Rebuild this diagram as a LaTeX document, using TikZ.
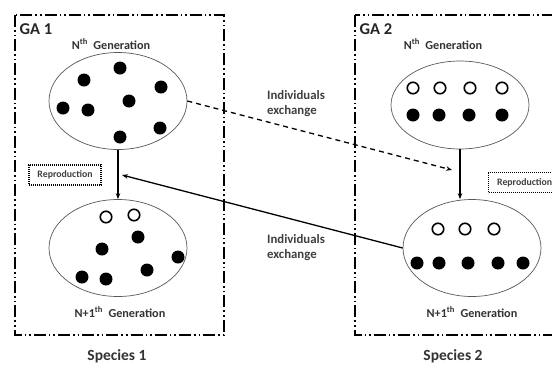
\documentclass[tikz,border=0pt]{standalone}
\usepackage{fontspec}
\setmainfont{Carlito}
\usetikzlibrary{shapes.geometric,arrows.meta}
\begin{document}
\begin{tikzpicture}[x=1pt,y=-1pt,
  gabox/.style={line width=1.8pt, dash pattern=on 12pt off 3pt on 1.6pt off 3pt on 1.6pt off 3pt},
  pop/.style={draw=black!65, line width=0.7pt, ellipse, minimum width=138pt, minimum height=97pt, inner sep=0pt},
  full/.style={circle, fill=black, minimum size=13pt, inner sep=0pt},
  hollow/.style={circle, draw=black, line width=1.6pt, fill=white, minimum size=11.5pt, inner sep=0pt},
  reprobox/.style={draw, line width=1.4pt, dash pattern=on 0.9pt off 1.1pt, minimum width=72pt, minimum height=20pt, inner sep=0pt, font=\bfseries\fontsize{9.8}{11}\selectfont, text=black!75},
  title/.style={font=\bfseries\fontsize{16.5}{18}\selectfont, text=black!85, anchor=west},
  gen/.style={font=\bfseries\fontsize{12.2}{14}\selectfont, text=black!80},
  exch/.style={font=\bfseries\fontsize{12.8}{15}\selectfont, text=black!75, align=left},
  spec/.style={font=\bfseries\fontsize{15.5}{17}\selectfont, text=black!80},
  arr/.style={line width=1.3pt, -{Stealth[length=6pt,width=4.5pt]}}
]
\useasboundingbox (0,0) rectangle (552,365);
\clip (0,0) rectangle (552,365);
\fill[white] (0,0) rectangle (552,365);

% GA boxes
\draw[gabox] (15,15) rectangle (224,335);
\draw[gabox] (355,15) rectangle (570,335);
\node[title] (ga1) at (16,29) {GA 1};
\node[title] (ga2) at (356,29) {GA 2};

% populations
\node[pop] (e1) at (118,101) {};
\node[pop] (e2) at (118,248) {};
\node[pop, minimum height=88pt] (e3) at (460,105) {};
\node[pop] (e4) at (472,248) {};

\node[gen] (g1) at (111,44) {N\textsuperscript{th}\ \ Generation};
\node[gen] (g2) at (443,44) {N\textsuperscript{th}\ \ Generation};
\node[gen] (g3) at (120,312) {N+1\textsuperscript{th}\ \ Generation};
\node[gen] (g4) at (472,312) {N+1\textsuperscript{th}\ \ Generation};

% individuals GA1, Nth
\foreach \x/\y [count=\i] in {120/68, 84/80, 161/87, 129/101, 63/108, 88/110, 160/128, 120/137}
  \node[full] (a\i) at (\x,\y) {};
% GA1, N+1th
\foreach \x/\y [count=\i] in {106/217, 134/215}
  \node[hollow] (bh\i) at (\x,\y) {};
\foreach \x/\y [count=\i] in {138/237, 102/249, 178/257, 147/270, 82/277, 106/279}
  \node[full] (b\i) at (\x,\y) {};
% GA2, Nth
\foreach \x [count=\i] in {413, 440, 470, 502}
  \node[hollow] (ch\i) at (\x,88) {};
\foreach \x [count=\i] in {413, 439, 469, 502}
  \node[full] (c\i) at (\x,115) {};
% GA2, N+1th
\foreach \x [count=\i] in {438, 465, 494}
  \node[hollow] (dh\i) at (\x,229) {};
\foreach \x [count=\i] in {417, 439, 468, 498, 523}
  \node[full] (d\i) at (\x,263) {};

% reproduction labels
\node[reprobox] (r1) at (65,175) {Reproduction};
\node[reprobox, anchor=west] (r2) at (488,182.5) {Reproduction};

% exchange labels
\node[exch] (x1) at (296,104) {Individuals\\exchange};
\node[exch] (x2) at (296,248) {Individuals\\exchange};

% species labels
\node[spec] (s1) at (117,356) {Species 1};
\node[spec] (s2) at (453,356) {Species 2};

% connectors
\coordinate (hitL) at (122,175);
\coordinate (hitR) at (452,170);
\draw[arr] (e1.south) -- (e2.north);
\draw[arr] (e3.south) -- (e3.south |- e4.north);
\draw[arr, dash pattern=on 5pt off 4pt] (e1.east) -- (hitR);
\draw[arr] (e4.west) -- (hitL);
\end{tikzpicture}
\end{document}
